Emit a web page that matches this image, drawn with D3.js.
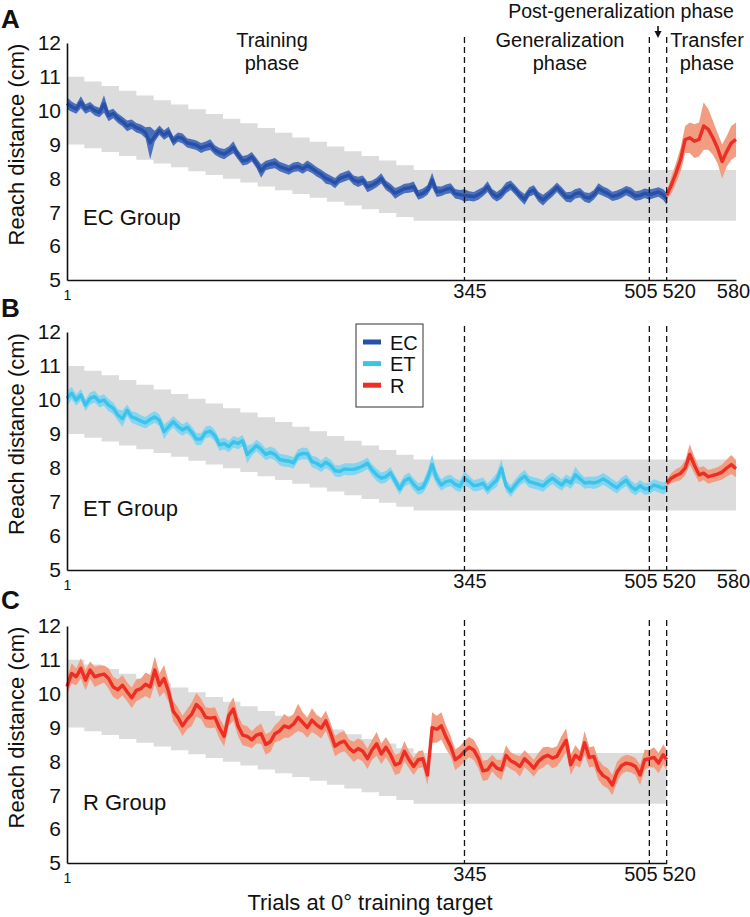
<!DOCTYPE html>
<html><head><meta charset="utf-8">
<script src="https://cdn.jsdelivr.net/npm/d3@7"></script>
<style>
body{margin:0;background:#fff}
text{font-family:"Liberation Sans",Arial,Helvetica,sans-serif;fill:#111}
</style>
</head><body>
<svg id="chart" width="750" height="917"></svg>
<script>
// ---------- DATA ----------
const sampleStep = 4;            // trials between stored samples (1,5,9,...,517, then 520)
const transferStep = 4;          // transfer samples (520,524,...,580)
const yTicks = [5, 6, 7, 8, 9, 10, 11, 12];
const xTickValuesAB = [1, 345, 505, 520, 580];
const xTickValuesC = [1, 345, 505, 520];
const phaseBoundaries = [345, 505, 520];

// Target band (gray staircase), one level per 15-trial block, last level flat from trial 301
const bandBlock = 15;
const bandTop = [11.00, 10.86, 10.73, 10.59, 10.45, 10.31, 10.18, 10.04, 9.90, 9.76, 9.63, 9.49, 9.35, 9.21, 9.08, 8.94, 8.80, 8.66, 8.53, 8.39, 8.25];
const bandBottom = [9.00, 8.89, 8.78, 8.66, 8.55, 8.44, 8.33, 8.21, 8.10, 7.99, 7.88, 7.76, 7.65, 7.54, 7.43, 7.31, 7.20, 7.09, 6.98, 6.86, 6.75];

// EC group (trials 1..517 step 4, then 520)
const ecMean = [
 10.22,10.12,10.05,10.25,10.05,10.12,10.0,9.95,10.2,9.85,
 9.92,9.78,9.68,9.55,9.6,9.5,9.45,9.35,9.05,9.25,
 9.42,9.28,9.38,9.1,9.22,9.18,9.05,9.02,8.98,8.9,
 8.95,9.0,8.84,8.76,8.72,8.8,8.92,8.7,8.52,8.55,
 8.64,8.45,8.22,8.38,8.42,8.45,8.35,8.3,8.25,8.33,
 8.35,8.28,8.38,8.3,8.2,8.12,8.0,7.95,7.86,8.0,
 8.05,8.1,7.95,7.9,7.95,7.75,7.8,7.88,8.0,7.8,
 7.7,7.56,7.63,7.7,7.72,7.76,7.51,7.56,7.66,7.95,
 7.61,7.62,7.68,7.71,7.55,7.52,7.5,7.48,7.46,7.52,
 7.61,7.76,7.55,7.46,7.55,7.72,7.8,7.66,7.5,7.38,
 7.6,7.66,7.46,7.36,7.48,7.6,7.74,7.6,7.45,7.45,
 7.55,7.58,7.45,7.42,7.52,7.7,7.62,7.56,7.47,7.5,
 7.56,7.64,7.58,7.48,7.5,7.56,7.52,7.56,7.6,7.52,
 7.4];
const ecCI = [
 0.18,0.15,0.14,0.18,0.14,0.14,0.14,0.14,0.26,0.16,
 0.14,0.14,0.14,0.16,0.14,0.14,0.14,0.16,0.48,0.16,
 0.14,0.14,0.15,0.14,0.14,0.15,0.14,0.14,0.14,0.15,
 0.14,0.16,0.14,0.14,0.15,0.14,0.18,0.14,0.14,0.14,
 0.14,0.15,0.2,0.14,0.14,0.15,0.14,0.14,0.14,0.14,
 0.14,0.14,0.15,0.14,0.14,0.14,0.16,0.14,0.15,0.14,
 0.14,0.14,0.14,0.15,0.14,0.16,0.14,0.14,0.15,0.14,
 0.14,0.16,0.14,0.14,0.14,0.15,0.14,0.14,0.14,0.22,
 0.16,0.14,0.14,0.15,0.14,0.14,0.18,0.14,0.14,0.15,
 0.14,0.16,0.14,0.14,0.15,0.16,0.14,0.14,0.14,0.16,
 0.14,0.14,0.15,0.16,0.14,0.14,0.14,0.15,0.14,0.16,
 0.14,0.14,0.14,0.15,0.14,0.16,0.14,0.14,0.14,0.14,
 0.14,0.14,0.15,0.14,0.14,0.14,0.15,0.14,0.14,0.16,
 0.18];
const ecTransferMean = [7.5,7.8,8.15,8.55,9.15,9.2,9.1,9.15,9.55,9.45,9.2,8.9,8.5,8.8,9.05,9.15];
const ecTransferCI = [0.1,0.25,0.3,0.35,0.4,0.45,0.5,0.5,0.7,0.6,0.5,0.45,0.5,0.45,0.5,0.5];

// ET group
const etMean = [
 10.05,10.2,10.0,10.15,9.85,10.05,10.1,9.95,10.0,9.85,
 9.76,9.56,9.45,9.7,9.5,9.45,9.38,9.33,9.43,9.5,
 9.4,9.07,9.22,9.36,9.22,9.12,9.2,9.05,8.85,8.85,
 9.05,9.08,8.95,8.68,8.72,8.63,8.77,8.72,8.8,8.4,
 8.53,8.66,8.55,8.4,8.46,8.4,8.25,8.22,8.2,8.15,
 8.38,8.43,8.42,8.19,8.14,8.05,8.17,8.08,7.92,7.9,
 7.97,7.96,7.96,8.0,8.06,8.14,7.94,7.8,7.7,7.74,
 7.86,7.62,7.38,7.62,7.7,7.52,7.38,7.43,7.7,8.1,
 7.7,7.5,7.6,7.63,7.52,7.46,7.7,7.6,7.48,7.5,
 7.55,7.38,7.52,7.65,8.0,7.48,7.32,7.5,7.66,7.76,
 7.6,7.56,7.52,7.47,7.6,7.7,7.6,7.5,7.64,7.56,
 7.8,7.68,7.56,7.58,7.56,7.6,7.68,7.6,7.5,7.42,
 7.55,7.64,7.46,7.36,7.48,7.38,7.4,7.5,7.45,7.4,
 7.45];
const etCI = [
 0.24,0.18,0.17,0.17,0.17,0.18,0.17,0.17,0.17,0.18,
 0.17,0.17,0.24,0.17,0.17,0.18,0.17,0.17,0.17,0.17,
 0.17,0.22,0.17,0.17,0.18,0.17,0.17,0.17,0.18,0.17,
 0.17,0.17,0.17,0.18,0.17,0.17,0.17,0.17,0.17,0.26,
 0.17,0.17,0.18,0.17,0.17,0.17,0.17,0.18,0.17,0.17,
 0.17,0.17,0.17,0.17,0.18,0.17,0.17,0.17,0.17,0.17,
 0.17,0.18,0.17,0.17,0.17,0.17,0.17,0.18,0.17,0.17,
 0.17,0.17,0.17,0.17,0.17,0.18,0.17,0.17,0.22,0.3,
 0.2,0.17,0.17,0.17,0.17,0.17,0.22,0.17,0.17,0.18,
 0.17,0.17,0.17,0.2,0.26,0.17,0.17,0.17,0.17,0.18,
 0.17,0.17,0.17,0.17,0.18,0.17,0.17,0.17,0.17,0.17,
 0.24,0.17,0.17,0.17,0.18,0.17,0.17,0.17,0.17,0.17,
 0.17,0.17,0.18,0.17,0.17,0.17,0.17,0.17,0.17,0.17,
 0.17];
const etTransferMean = [7.55,7.7,7.78,7.84,8.0,8.4,8.08,7.8,7.85,7.74,7.78,7.82,7.88,8.0,8.1,7.98];
const etTransferCI = [0.1,0.15,0.18,0.2,0.22,0.3,0.25,0.22,0.2,0.2,0.2,0.2,0.22,0.25,0.28,0.25];

// R group
const rMean = [
 10.21,10.6,10.5,10.75,10.4,10.7,10.5,10.55,10.58,10.45,
 10.2,10.12,10.25,10.06,9.88,10.1,10.15,10.28,10.2,10.7,
 10.25,10.45,10.05,9.48,9.3,9.05,9.25,9.4,9.68,9.55,
 9.3,9.28,9.3,8.98,8.74,9.35,9.55,9.05,8.78,8.74,
 8.64,8.78,8.82,8.5,8.58,8.82,8.9,9.05,9.0,9.1,
 9.3,9.15,9.0,9.22,9.08,8.98,9.2,8.85,8.45,8.55,
 8.6,8.4,8.28,8.38,8.3,8.08,8.34,8.52,8.22,8.42,
 8.2,7.9,7.95,8.3,8.05,7.85,8.05,8.08,7.6,9.0,
 8.95,9.05,8.72,8.45,8.05,8.15,8.3,8.42,8.34,8.1,
 7.72,7.75,7.95,7.8,7.75,8.18,8.02,7.95,7.85,8.08,
 7.95,7.8,8.0,8.12,8.18,8.1,8.15,8.4,8.62,7.9,
 8.18,8.06,8.55,8.12,8.15,7.75,7.58,7.5,7.3,7.68,
 7.88,7.95,7.92,7.85,7.6,8.05,8.08,8.12,7.95,8.2,
 8.05];
const rCI = [
 0.25,0.3,0.25,0.3,0.3,0.25,0.3,0.28,0.25,0.3,
 0.3,0.3,0.3,0.28,0.3,0.32,0.3,0.35,0.35,0.4,
 0.35,0.4,0.3,0.3,0.3,0.3,0.3,0.35,0.35,0.3,
 0.3,0.3,0.3,0.3,0.3,0.3,0.35,0.3,0.3,0.3,
 0.25,0.25,0.3,0.3,0.3,0.25,0.3,0.35,0.3,0.3,
 0.4,0.3,0.3,0.35,0.3,0.3,0.3,0.3,0.3,0.3,
 0.3,0.25,0.3,0.3,0.3,0.3,0.3,0.35,0.3,0.3,
 0.3,0.3,0.3,0.3,0.25,0.25,0.25,0.25,0.3,0.45,
 0.4,0.4,0.35,0.3,0.3,0.3,0.3,0.3,0.3,0.3,
 0.3,0.3,0.25,0.25,0.3,0.3,0.25,0.25,0.3,0.25,
 0.25,0.25,0.25,0.3,0.25,0.3,0.3,0.35,0.35,0.3,
 0.3,0.25,0.35,0.3,0.3,0.3,0.3,0.3,0.3,0.3,
 0.25,0.25,0.25,0.25,0.3,0.3,0.25,0.3,0.3,0.3,
 0.3];

const groups = ["EC", "ET", "R"];
const groupColors = {EC: "#2750a6", ET: "#3cc3ea", R: "#ec2e25"};
const groupCIColors = {EC: "#4a70bd", ET: "#86d5f0", R: "#f29c82"};

// ---------- DRAW ----------
const svg = d3.select("#chart");
const x = d3.scaleLinear().domain([1, 580]).range([67, 736]);
const xC = d3.scaleLinear().domain([1, 520]).range([67, x(520)]);

const panels = [
  {letter: "A", letterY: 28, top: 43, bottom: 280, label: "EC Group", labelY: 225,
   main: {g: "EC", mean: ecMean, ci: ecCI}, transfer: {mean: ecTransferMean, ci: ecTransferCI},
   xs: x, ticks: xTickValuesAB},
  {letter: "B", letterY: 317, top: 332, bottom: 570, label: "ET Group", labelY: 516,
   main: {g: "ET", mean: etMean, ci: etCI}, transfer: {mean: etTransferMean, ci: etTransferCI},
   xs: x, ticks: xTickValuesAB},
  {letter: "C", letterY: 609, top: 626, bottom: 863, label: "R Group", labelY: 810,
   main: {g: "R", mean: rMean, ci: rCI}, transfer: null,
   xs: xC, ticks: xTickValuesC}
];

const tickDx = {1: 0, 345: 5, 505: -9, 520: 12, 580: -3};

panels.forEach(p => {
  const y = d3.scaleLinear().domain([5, 12]).range([p.bottom, p.top]);
  const xs = p.xs;
  const xEnd = xs.domain()[1];
  const g = svg.append("g");

  // gray staircase band
  const bandPts = bandTop.map((t, k) => ({trial: 1 + k * bandBlock, top: t, bot: bandBottom[k]}));
  bandPts.push({trial: xEnd, top: bandTop[bandTop.length - 1], bot: bandBottom[bandBottom.length - 1]});
  g.append("path")
    .attr("d", d3.area().curve(d3.curveStepAfter)
      .x(d => xs(d.trial)).y0(d => y(d.bot)).y1(d => y(d.top))(bandPts))
    .attr("fill", "#dcdcdc");

  // main series
  const mainPts = p.main.mean.map((m, i) => ({trial: Math.min(1 + i * sampleStep, 520), m, c: p.main.ci[i]}));
  const area = d3.area().x(d => xs(d.trial)).y0(d => y(d.m - d.c)).y1(d => y(d.m + d.c));
  const line = d3.line().x(d => xs(d.trial)).y(d => y(d.m));
  g.append("path").attr("d", area(mainPts)).attr("fill", groupCIColors[p.main.g]);
  g.append("path").attr("d", line(mainPts)).attr("fill", "none")
    .attr("stroke", groupColors[p.main.g]).attr("stroke-width", 3.4).attr("stroke-linejoin", "round");

  if (p.transfer) {
    const tPts = p.transfer.mean.map((m, i) => ({trial: 520 + i * transferStep, m, c: p.transfer.ci[i]}));
    g.append("path").attr("d", area(tPts)).attr("fill", groupCIColors.R);
    g.append("path").attr("d", line(tPts)).attr("fill", "none")
      .attr("stroke", groupColors.R).attr("stroke-width", 3.4).attr("stroke-linejoin", "round");
  }

  // dashed phase boundaries
  phaseBoundaries.forEach(b => {
    g.append("line").attr("x1", xs(b)).attr("x2", xs(b))
      .attr("y1", p.top - 6).attr("y2", p.bottom)
      .attr("stroke", "#111").attr("stroke-width", 1.3).attr("stroke-dasharray", "6,4");
  });

  // y axis
  const ya = g.append("g").attr("transform", `translate(${xs(1)},0)`)
    .call(d3.axisLeft(y).tickValues(yTicks).tickSize(0).tickPadding(6).tickFormat(d3.format("d")));
  ya.select(".domain").attr("stroke", "#111").attr("stroke-width", 1.6);
  ya.selectAll("text").attr("font-size", 21).attr("fill", "#111")
    .style("font-family", '"Liberation Sans", Arial, sans-serif');

  // x axis
  const xa = g.append("g").attr("transform", `translate(0,${p.bottom})`)
    .call(d3.axisBottom(xs).tickValues(p.ticks).tickSize(0).tickFormat(d3.format("d")));
  xa.select(".domain").attr("stroke", "#111").attr("stroke-width", 1.6);
  xa.selectAll("text")
    .attr("font-size", d => d === 1 ? 14 : 20)
    .attr("y", d => d === 1 ? 10 : 4)
    .attr("dx", d => tickDx[d] || 0)
    .attr("fill", "#111")
    .style("font-family", '"Liberation Sans", Arial, sans-serif');

  // y title
  svg.append("text")
    .attr("transform", `translate(24,${(p.top + p.bottom) / 2 - 17}) rotate(-90)`)
    .attr("text-anchor", "middle").attr("font-size", 22)
    .text("Reach distance (cm)");

  // panel letter
  svg.append("text").attr("x", 1).attr("y", p.letterY)
    .attr("font-size", 26).attr("font-weight", "bold").text(p.letter);

  // group label
  svg.append("text").attr("x", 83).attr("y", p.labelY)
    .attr("font-size", 22).text(p.label);
});

// phase labels (panel A)
const phaseLabels = [
  {lines: ["Training", "phase"], x: 272},
  {lines: ["Generalization", "phase"], x: 560},
  {lines: ["Transfer", "phase"], x: 707}
];
phaseLabels.forEach(pl => {
  pl.lines.forEach((t, i) => {
    svg.append("text").attr("x", pl.x).attr("y", 47 + i * 22.5)
      .attr("text-anchor", "middle").attr("font-size", 20).text(t);
  });
});
svg.append("text").attr("x", 621).attr("y", 17.5)
  .attr("text-anchor", "middle").attr("font-size", 19.5).text("Post-generalization phase");
// arrow
const ax = (x(505) + x(520)) / 2;
svg.append("line").attr("x1", ax).attr("x2", ax).attr("y1", 26).attr("y2", 33)
  .attr("stroke", "#111").attr("stroke-width", 1.6);
svg.append("path").attr("d", `M${ax - 3.5},31 L${ax + 3.5},31 L${ax},38 Z`).attr("fill", "#111");

// x title
svg.append("text").attr("x", 370).attr("y", 910).attr("text-anchor", "middle")
  .attr("font-size", 22).text("Trials at 0\u00b0 training target");

// legend (panel B)
const leg = svg.append("g").attr("transform", "translate(356,324)");
leg.append("rect").attr("x", 0).attr("y", 0).attr("width", 67).attr("height", 83)
  .attr("fill", "#fff").attr("stroke", "#333").attr("stroke-width", 1);
groups.forEach((gname, i) => {
  leg.append("line").attr("x1", 7).attr("x2", 25).attr("y1", 18 + i * 21.6).attr("y2", 18 + i * 21.6)
    .attr("stroke", groupColors[gname]).attr("stroke-width", 5);
  leg.append("text").attr("x", 34).attr("y", 25.5 + i * 21.6).attr("font-size", 20).text(gname);
});
</script>
</body></html>
